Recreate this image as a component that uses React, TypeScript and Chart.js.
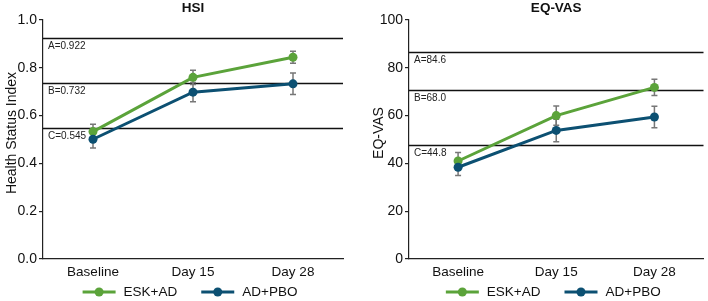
import React, { useEffect, useRef } from 'react';
import { Chart, registerables } from 'chart.js';

Chart.register(...registerables);

// ---------- data ----------
const categories = ['Baseline', 'Day 15', 'Day 28'];
const seriesNames = ['ESK+AD', 'AD+PBO'];

const hsiEsk = [0.533, 0.76, 0.844];
const hsiEskErr = [0.031, 0.03, 0.025];
const hsiPbo = [0.501, 0.698, 0.733];
const hsiPboErr = [0.037, 0.04, 0.045];
const hsiRefValues = [0.926, 0.735, 0.55];
const hsiRefLabels = ['A=0.922', 'B=0.732', 'C=0.545'];
const hsiTicks = [0, 0.2, 0.4, 0.6, 0.8, 1.0];

const vasEsk = [41.0, 60.0, 71.8];
const vasEskErr = [3.6, 4.0, 3.4];
const vasPbo = [38.4, 53.8, 59.4];
const vasPboErr = [3.5, 4.7, 4.5];
const vasRefValues = [86.6, 70.6, 47.7];
const vasRefLabels = ['A=84.6', 'B=68.0', 'C=44.8'];
const vasTicks = [0, 20, 40, 60, 80, 100];

// ---------- styles ----------
const GREEN = '#5ba33a';
const BLUE = '#0c5072';
const FONT = '"Liberation Sans", Arial, Helvetica, sans-serif';
const INK = '#111111';

type PanelProps = {
  title: string;
  yTitle: string;
  esk: number[];
  eskErr: number[];
  pbo: number[];
  pboErr: number[];
  refValues: number[];
  refLabels: string[];
  ticks: number[];
  decimals: number;
  yWidth: number;
  yTitleX: number;
  rightPad: number;
};

function Panel(p: PanelProps) {
  const ref = useRef<HTMLCanvasElement | null>(null);

  useEffect(() => {
    if (!ref.current) return;
    const errs = [p.eskErr, p.pboErr];

    const panelPlugin = {
      id: 'panelPlugin',
      beforeDatasetsDraw(chart: any) {
        const { ctx, chartArea } = chart;
        const y = chart.scales.y;
        // reference lines
        ctx.save();
        ctx.strokeStyle = '#111';
        ctx.lineWidth = 1.4;
        ctx.fillStyle = '#222';
        ctx.font = `10px ${FONT}`;
        ctx.textAlign = 'left';
        ctx.textBaseline = 'top';
        p.refValues.forEach((v, i) => {
          const py = Math.round(y.getPixelForValue(v)) + 0.5;
          ctx.beginPath();
          ctx.moveTo(chartArea.left, py);
          ctx.lineTo(chartArea.right, py);
          ctx.stroke();
          ctx.fillText(p.refLabels[i], chartArea.left + 5, py + 3);
        });
        ctx.restore();
        // error bars
        ctx.save();
        ctx.strokeStyle = '#777';
        ctx.lineWidth = 1.5;
        chart.data.datasets.forEach((ds: any, di: number) => {
          const meta = chart.getDatasetMeta(di);
          meta.data.forEach((pt: any, i: number) => {
            const v = ds.data[i];
            const e = errs[di][i];
            const x = pt.x;
            const y1 = y.getPixelForValue(v + e);
            const y2 = y.getPixelForValue(v - e);
            ctx.beginPath();
            ctx.moveTo(x, y1);
            ctx.lineTo(x, y2);
            ctx.moveTo(x - 3, y1);
            ctx.lineTo(x + 3, y1);
            ctx.moveTo(x - 3, y2);
            ctx.lineTo(x + 3, y2);
            ctx.stroke();
          });
        });
        ctx.restore();
      },
      afterDraw(chart: any) {
        const { ctx, chartArea } = chart;
        const cx = (chartArea.left + chartArea.right) / 2;
        ctx.save();
        // panel title
        ctx.fillStyle = INK;
        ctx.font = `bold 13.5px ${FONT}`;
        ctx.textAlign = 'center';
        ctx.textBaseline = 'middle';
        ctx.fillText(p.title, cx, 8);
        // y title
        ctx.save();
        ctx.font = `14px ${FONT}`;
        ctx.translate(p.yTitleX, 133);
        ctx.rotate(-Math.PI / 2);
        ctx.fillText(p.yTitle, 0, 0);
        ctx.restore();
        // legend
        ctx.font = `13.5px ${FONT}`;
        const colors = [GREEN, BLUE];
        const lineLen = 33;
        const gap = 8;
        const spacing = 24;
        const widths = seriesNames.map((n) => ctx.measureText(n).width);
        const total = lineLen * 2 + gap * 2 + widths[0] + widths[1] + spacing;
        let x = cx - 3 - total / 2;
        const ly = 292;
        seriesNames.forEach((n, i) => {
          ctx.strokeStyle = colors[i];
          ctx.fillStyle = colors[i];
          ctx.lineWidth = 3;
          ctx.beginPath();
          ctx.moveTo(x, ly);
          ctx.lineTo(x + lineLen, ly);
          ctx.stroke();
          ctx.beginPath();
          ctx.arc(x + lineLen / 2, ly, 4.5, 0, Math.PI * 2);
          ctx.fill();
          ctx.fillStyle = INK;
          ctx.textAlign = 'left';
          ctx.fillText(n, x + lineLen + gap, ly);
          x += lineLen + gap + widths[i] + spacing;
        });
        ctx.restore();
      },
    };

    const chart = new Chart(ref.current, {
      type: 'line',
      data: {
        labels: categories,
        datasets: [
          {
            label: seriesNames[0],
            data: p.esk,
            borderColor: GREEN,
            backgroundColor: GREEN,
            pointBackgroundColor: GREEN,
            pointBorderWidth: 0,
            pointRadius: 4.5,
            borderWidth: 3,
            order: 1,
          },
          {
            label: seriesNames[1],
            data: p.pbo,
            borderColor: BLUE,
            backgroundColor: BLUE,
            pointBackgroundColor: BLUE,
            pointBorderWidth: 0,
            pointRadius: 4.5,
            borderWidth: 3,
            order: 0,
          },
        ],
      },
      options: {
        animation: false,
        responsive: false,
        devicePixelRatio: 1,
        layout: { padding: { top: 20, bottom: 18, left: 0, right: p.rightPad } },
        plugins: {
          legend: { display: false },
          title: { display: false },
          tooltip: { enabled: false },
        },
        scales: {
          x: {
            type: 'category',
            offset: true,
            grid: { display: false, drawTicks: false },
            border: { display: true, color: '#222', width: 1.2 },
            ticks: {
              color: INK,
              font: { family: FONT, size: 13.5 },
              padding: 5,
              maxRotation: 0,
            },
            afterFit: (s: any) => {
              s.height = 24;
            },
          },
          y: {
            min: p.ticks[0],
            max: p.ticks[p.ticks.length - 1],
            afterBuildTicks: (s: any) => {
              s.ticks = p.ticks.map((v) => ({ value: v }));
            },
            grid: {
              display: true,
              drawOnChartArea: false,
              drawTicks: true,
              tickLength: 4,
              color: '#222',
              lineWidth: 1.2,
            },
            border: { display: true, color: '#222', width: 1.2 },
            ticks: {
              color: INK,
              font: { family: FONT, size: 14 },
              padding: 2,
              callback: (v: any) => Number(v).toFixed(p.decimals),
            },
            afterFit: (s: any) => {
              s.width = p.yWidth;
            },
          },
        },
      } as any,
      plugins: [panelPlugin],
    });
    return () => chart.destroy();
  }, []);

  return <canvas ref={ref} width={354} height={301} style={{ display: 'block', width: 354, height: 301 }} />;
}

export default function App() {
  return (
    <div
      style={{
        position: 'fixed',
        left: 0,
        top: 0,
        width: 708,
        height: 301,
        background: '#fff',
        display: 'flex',
        overflow: 'hidden',
      }}
    >
      <Panel
        title="HSI"
        yTitle="Health Status Index"
        esk={hsiEsk}
        eskErr={hsiEskErr}
        pbo={hsiPbo}
        pboErr={hsiPboErr}
        refValues={hsiRefValues}
        refLabels={hsiRefLabels}
        ticks={hsiTicks}
        decimals={1}
        yWidth={43}
        yTitleX={12}
        rightPad={11}
      />
      <Panel
        title="EQ-VAS"
        yTitle="EQ-VAS"
        esk={vasEsk}
        eskErr={vasEskErr}
        pbo={vasPbo}
        pboErr={vasPboErr}
        refValues={vasRefValues}
        refLabels={vasRefLabels}
        ticks={vasTicks}
        decimals={0}
        yWidth={55}
        yTitleX={25}
        rightPad={0}
      />
    </div>
  );
}
